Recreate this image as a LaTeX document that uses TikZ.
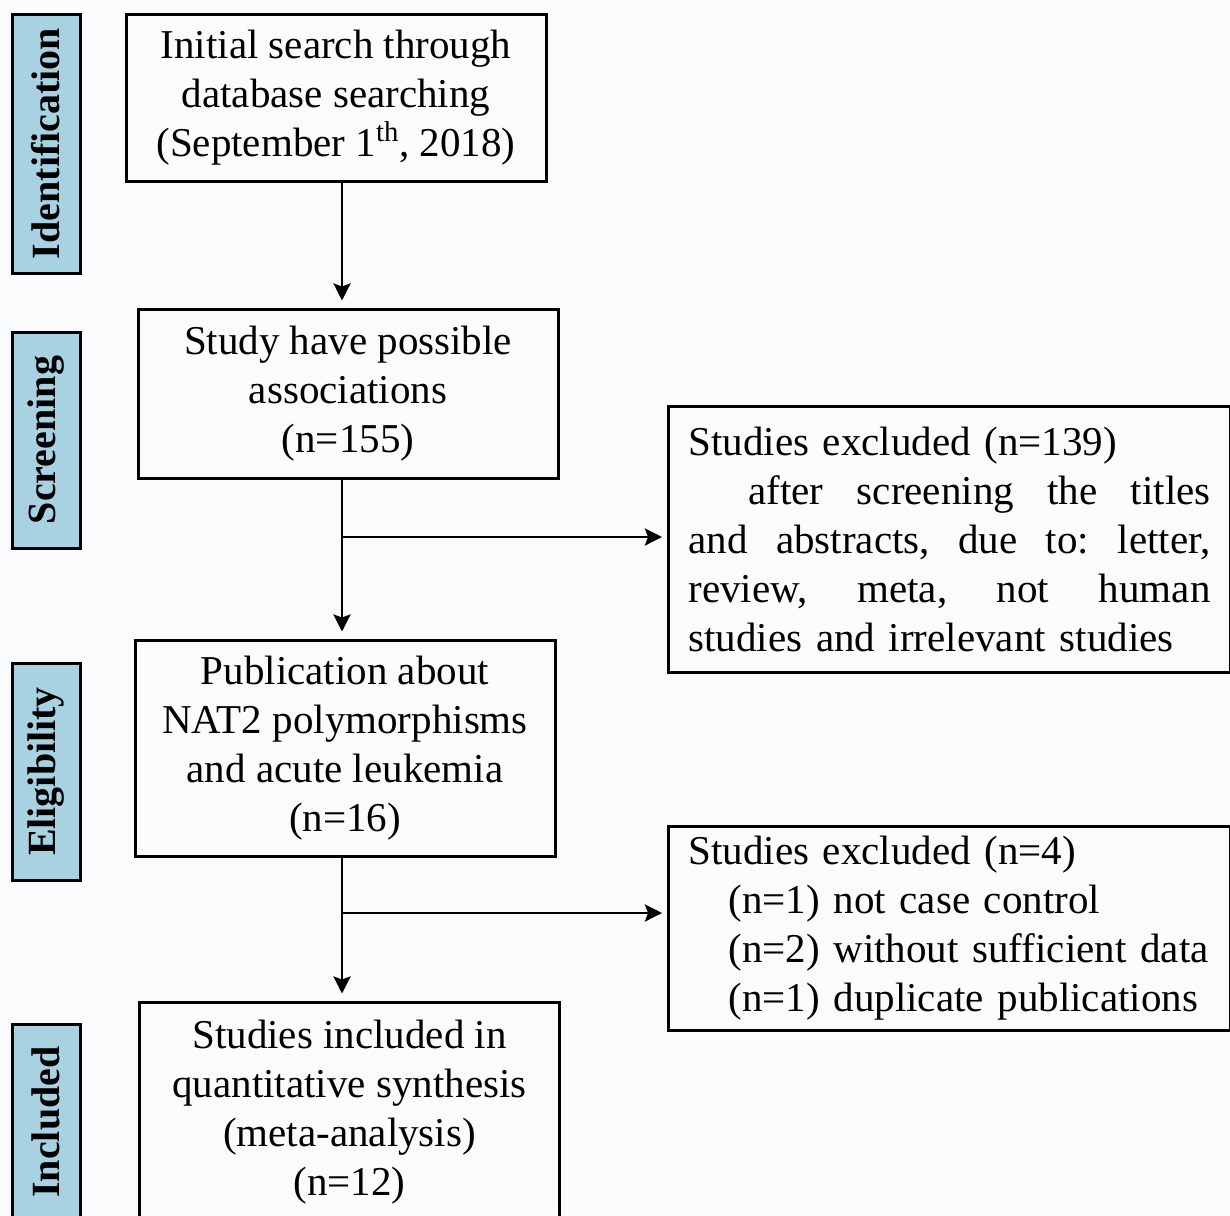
\documentclass[tikz,border=0pt]{standalone}
\usepackage{fontspec}
\setmainfont{Liberation Serif}
\usetikzlibrary{arrows.meta}
\definecolor{barblue}{RGB}{168,210,226}
\definecolor{pagebg}{RGB}{250,251,253}

\begin{document}
\begin{tikzpicture}[x=0.5pt,y=-0.5pt,
    flowbox/.style={draw,line width=1.5pt,align=center,inner sep=0pt,minimum width=210pt,
        font=\fontsize{20.5}{24.5}\selectfont},
    notebox/.style={draw,line width=1.5pt,anchor=west,align=left,inner xsep=10pt,inner ysep=0pt,
        text width=261pt,font=\fontsize{20.5}{24.5}\selectfont},
    stagebar/.style={draw,line width=1.5pt,fill=barblue,rotate=90,minimum height=34pt,inner sep=0pt,
        font=\fontsize{20}{24}\selectfont\bfseries},
    flowarrow/.style={-{Stealth[length=8.5pt,width=8.5pt,inset=1.5pt]},line width=1.4pt,shorten >=3.5pt}]
    \useasboundingbox (0,0) rectangle (1230,1215);
    \clip (0,0) rectangle (1230,1215);
    \fill[pagebg] (0,0) rectangle (1230,1215);

    %stage bars
    \node[stagebar,minimum width=129.5pt] (identbar) at (46,143.5) {Identification};
    \node[stagebar,minimum width=108pt] (screenbar) at (46,440) {Screening};
    \node[stagebar,minimum width=108.5pt] (eligbar) at (46,771.5) {Eligibility};
    \node[stagebar,minimum width=97.5pt] (inclbar) at (46,1122) {Included};

    %main column
    \node[flowbox,minimum height=83.5pt] (search) at (336,97.5)
        {Initial search through\\database searching\\(September 1\textsuperscript{th}, 2018)};
    \node[flowbox,minimum height=84.5pt] (possible) at (348,393.5)
        {Study have possible\\associations\\(n=155)};
    \node[flowbox,minimum height=108pt] (publication) at (345,748)
        {Publication about\\NAT2 polymorphisms\\and acute leukemia\\(n=16)};
    \node[flowbox,minimum height=110pt] (included) at (349.5,1112)
        {Studies included in\\quantitative synthesis\\(meta-analysis)\\(n=12)};

    %excluded
    \node[notebox,minimum height=133pt] (excl1) at (667,539)
        {Studies excluded (n=139)\\
        \hspace*{30pt}\hbox to 231pt{after\hfill screening\hfill the\hfill titles}\\
        \leavevmode\hbox to 261pt{and\hfill abstracts,\hfill due\hfill to:\hfill letter,}\\
        \leavevmode\hbox to 261pt{review,\hfill meta,\hfill not\hfill human}\\
        studies and irrelevant studies};
    \node[notebox,minimum height=102pt] (excl2) at (667,928)
        {Studies excluded (n=4)\\
        \hspace*{20pt}(n=1) not case control\\
        \hspace*{20pt}(n=2) without sufficient data\\
        \hspace*{20pt}(n=1) duplicate publications};

    %arrows
    \coordinate (c1) at (342,181);
    \coordinate (c2) at (342,478);
    \coordinate (c3) at (342,856);
    \coordinate (s1) at (342,537);
    \coordinate (s2) at (342,913);
    \draw[flowarrow] (c1) -- (c1 |- possible.north);
    \draw[flowarrow] (c2) -- (c2 |- publication.north);
    \draw[flowarrow] (c3) -- (c3 |- included.north);
    \draw[flowarrow,shorten >=2.5pt] (s1) -- (s1 -| excl1.west);
    \draw[flowarrow,shorten >=2.5pt] (s2) -- (s2 -| excl2.west);
\end{tikzpicture}
\end{document}
